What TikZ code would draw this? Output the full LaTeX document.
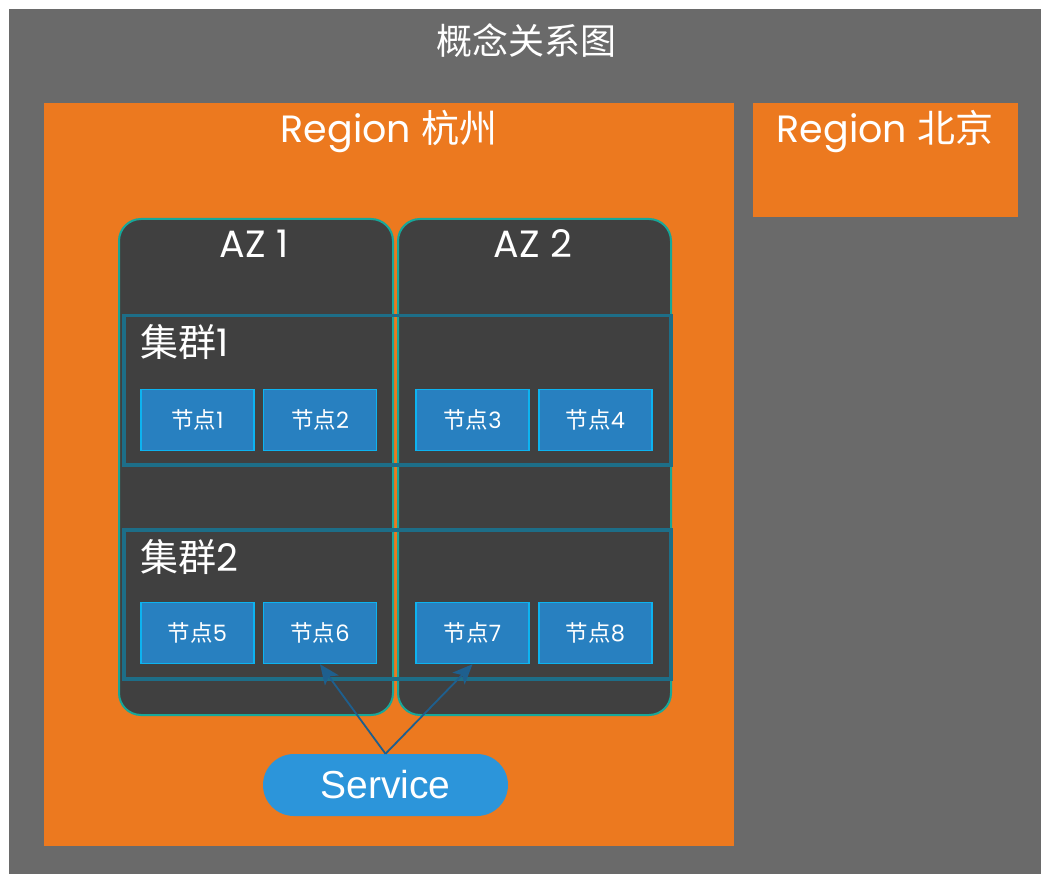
\documentclass[tikz,border=0pt]{standalone}
\usepackage{fontspec}
\usetikzlibrary{arrows.meta}
\newfontfamily\cjk{Noto Sans CJK SC}
\newfontfamily\pop{Poppins}
\newfontfamily\lib{Liberation Sans}
\definecolor{bggray}{HTML}{6A6A6A}
\definecolor{regorange}{HTML}{EC791F}
\definecolor{azfill}{HTML}{404040}
\definecolor{azline}{HTML}{17A79A}
\definecolor{clline}{HTML}{1D6E88}
\definecolor{nodefill}{HTML}{2880C0}
\definecolor{nodeline}{HTML}{0DB3F0}
\definecolor{svcfill}{HTML}{2C95DA}
\definecolor{arrowc}{HTML}{1E5F8E}
\tikzset{
  region/.style={fill=regorange, draw=none, anchor=north west, inner sep=0},
  azbox/.style={fill=azfill, draw=azline, line width=2, rounded corners=22, anchor=north west, minimum width=274, minimum height=496, inner sep=0},
  clbox/.style={draw=clline, line width=3.5, anchor=north west, minimum width=547, minimum height=149, inner sep=0},
  nodebox/.style={fill=nodefill, draw=nodeline, line width=1.5, minimum width=113, minimum height=61, inner sep=0, text=white, font=\cjk\fontsize{22.5}{25}\selectfont},
  bigtxt/.style={text=white, inner sep=0, font=\fontsize{38}{42}\selectfont},
  conn/.style={draw=arrowc, line width=1.8, -{Stealth[length=20pt, width=17pt, inset=5pt]}}
}
\begin{document}
\begin{tikzpicture}[x=1pt, y=-1pt]
\useasboundingbox (0,0) rectangle (1041,874);
\fill[white] (0,0) rectangle (1041,874);
\fill[bggray] (9,9) rectangle (1041,874);
\node[text=white, inner sep=0, font=\cjk\fontsize{36}{40}\selectfont] (title) at (526,41) {概念关系图};
% regions
\node[region, minimum width=690, minimum height=743] (hz) at (44,103) {};
\node[bigtxt] (hzlabel) at (389,132) {\pop Region \cjk 杭州};
\node[region, minimum width=265, minimum height=114] (bj) at (753,103) {};
\node[bigtxt] (bjlabel) at (885,132) {\pop Region \cjk 北京};
% AZ
\node[azbox] (az1) at (118,218) {};
\node[azbox, minimum width=273] (az2) at (397,218) {};
\node[bigtxt] (az1label) at (254,244) {\pop AZ 1};
\node[bigtxt] (az2label) at (533,244) {\pop AZ 2};
% clusters
\node[clbox] (cl1) at (122,314) {};
\node[clbox] (cl2) at (122,528) {};
\node[bigtxt, anchor=west] (cl1label) at (140,342) {\cjk 集群\pop 1};
\node[bigtxt, anchor=west] (cl2label) at (140,557) {\cjk 集群\pop 2};
% nodes
\node[nodebox] (n1) at (197.5,420) {节点\pop 1};
\node[nodebox] (n2) at (320,420) {节点\pop 2};
\node[nodebox] (n3) at (472.5,420) {节点\pop 3};
\node[nodebox] (n4) at (595.5,420) {节点\pop 4};
\node[nodebox] (n5) at (197.5,633) {节点\pop 5};
\node[nodebox] (n6) at (320,633) {节点\pop 6};
\node[nodebox] (n7) at (472.5,633) {节点\pop 7};
\node[nodebox] (n8) at (595.5,633) {节点\pop 8};
% service
\node[fill=svcfill, draw=none, rounded corners=31, minimum width=245, minimum height=62, inner sep=0, text=white, font=\lib\fontsize{39}{43}\selectfont] (svc) at (385.5,785) {Service};
\draw[conn] (svc.north) -- (n6.south);
\draw[conn] (svc.north) -- (n7.south);
\end{tikzpicture}
\end{document}
